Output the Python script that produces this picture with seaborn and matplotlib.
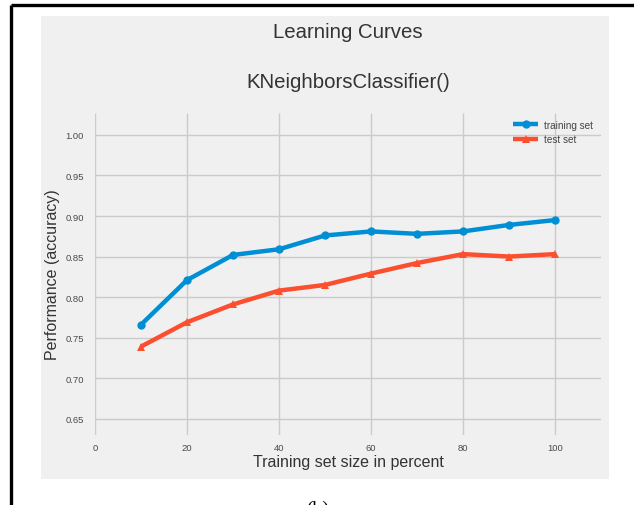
import matplotlib
matplotlib.use("Agg")
import matplotlib.pyplot as plt
import matplotlib.patches as mpatches
import matplotlib.lines as mlines
import pandas as pd
import seaborn as sns

# Training set size (percent) and mean accuracy for each split
train_sizes = [10, 20, 30, 40, 50, 60, 70, 80, 90, 100]
train_scores = [0.766, 0.821, 0.852, 0.859, 0.876, 0.881, 0.878, 0.881, 0.889, 0.895]
test_scores = [0.739, 0.769, 0.791, 0.808, 0.815, 0.829, 0.842, 0.853, 0.850, 0.853]
series_names = ["training set", "test set"]
y_ticks = [0.65, 0.70, 0.75, 0.80, 0.85, 0.90, 0.95, 1.00]
x_ticks = [0, 20, 40, 60, 80, 100]

df = pd.DataFrame({
    "size": train_sizes * 2,
    "score": train_scores + test_scores,
    "set": [series_names[0]] * len(train_sizes) + [series_names[1]] * len(train_sizes),
})

plt.style.use("fivethirtyeight")
plt.rcParams["font.family"] = ["Liberation Sans", "DejaVu Sans"]

BG = "#f0f0f0"
fig = plt.figure(figsize=(6.34, 5.06), dpi=100, facecolor="white")

# grey panel behind the chart and the black frame lines
fig.patches.append(mpatches.Rectangle((41 / 634, 1 - 480 / 506), (609 - 41) / 634, (480 - 17) / 506,
                                      transform=fig.transFigure, facecolor=BG, edgecolor="none",
                                      zorder=-5))
fig.lines.append(mlines.Line2D([10.5 / 634, 1.0], [1 - 6 / 506, 1 - 6 / 506], transform=fig.transFigure,
                               color="black", linewidth=2.4, solid_capstyle="butt"))
fig.lines.append(mlines.Line2D([10.5 / 634, 10.5 / 634], [0.0, 1 - 6 / 506], transform=fig.transFigure,
                               color="black", linewidth=2.4, solid_capstyle="butt"))

ax = fig.add_axes([95 / 634, 1 - 436 / 506, (601 - 95) / 634, (436 - 114) / 506])
ax.set_facecolor(BG)

palette = {series_names[0]: "#008fd5", series_names[1]: "#fc4f30"}
sns.lineplot(data=df, x="size", y="score", hue="set", style="set",
             markers={series_names[0]: "o", series_names[1]: "^"}, dashes=False,
             palette=palette, linewidth=3.2, markersize=6, markeredgewidth=0, ax=ax)

ax.set_xlim(0, 110)
ax.set_ylim(0.630, 1.027)
ax.set_xticks(x_ticks)
ax.set_yticks(y_ticks)
ax.set_yticklabels([f"{v:.2f}" for v in y_ticks])
ax.grid(True, color="#cbcbcb", linewidth=1.0)
ax.tick_params(axis="both", length=0, labelsize=6.8, labelcolor="#4a4a4a")
ax.tick_params(axis="x", pad=6)
ax.tick_params(axis="y", pad=8)
for s in ax.spines.values():
    s.set_visible(False)

ax.set_xlabel("Training set size in percent", fontsize=11.5, color="#333333", labelpad=1)
ax.set_ylabel("Performance (accuracy)", fontsize=11.5, color="#333333", labelpad=4)
ax.set_title("KNeighborsClassifier()", fontsize=14.7, color="#333333", pad=19)
fig.text(348 / 634, 1 - 32 / 506, "Learning Curves", fontsize=14.7, color="#333333",
         ha="center", va="center")

leg = ax.legend(loc="upper right", frameon=False, fontsize=7.2, handlelength=2.5,
                handletextpad=0.6, labelspacing=0.45, borderaxespad=0.2,
                bbox_to_anchor=(0.997, 0.998))
for t in leg.get_texts():
    t.set_color("#444444")

fig.text(318 / 634, 1 - 501 / 506, "(b)", fontsize=14, family="Liberation Serif",
         ha="center", va="top", color="black")

fig.savefig("out.png", dpi=100, facecolor="white")
